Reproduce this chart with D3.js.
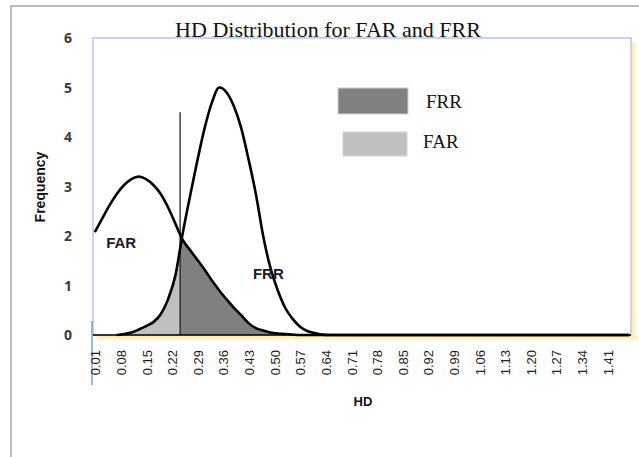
<!DOCTYPE html>
<html><head><meta charset="utf-8">
<script src="https://cdn.jsdelivr.net/npm/d3@7"></script>
<style>body{margin:0;background:#fff}svg{display:block}</style>
</head><body>
<svg id="c" width="639" height="457"></svg>
<script>
// HD sample points (every 0.02)
const hd = [0.01,0.03,0.05,0.07,0.09,0.11,0.13,0.15,0.17,0.19,0.21,0.23,0.25,0.27,0.29,0.31,0.33,0.35,0.37,0.39,0.41,0.43,0.45,0.47,0.49,0.51,0.53,0.55,0.57,0.59,0.61,0.63,0.65,0.70,1.47];
const farValues = [2.08,2.35,2.62,2.85,3.03,3.15,3.20,3.15,3.03,2.85,2.58,2.25,1.92,1.72,1.52,1.32,1.10,0.90,0.72,0.55,0.40,0.24,0.14,0.09,0.05,0.03,0.02,0.01,0,0,0,0,0,0,0];
const frrValues = [0,0,0,0,0.02,0.05,0.11,0.18,0.26,0.42,0.72,1.20,2.05,2.80,3.52,4.18,4.70,5.00,4.90,4.62,4.18,3.55,2.85,2.00,1.35,0.90,0.55,0.33,0.17,0.08,0.04,0.01,0,0,0];
const xTickLabels = ["0.01","0.08","0.15","0.22","0.29","0.36","0.43","0.50","0.57","0.64","0.71","0.78","0.85","0.92","0.99","1.06","1.13","1.20","1.27","1.34","1.41"];
const yTicks = [0,1,2,3,4,5,6];
const threshold = 0.243;
const thresholdHeight = 4.5;
const curveLabels = [{name:"FAR", hd:0.041, v:1.75},{name:"FRR", hd:0.442, v:1.13}];
const legendItems = [{name:"FRR", color:"#808080"},{name:"FAR", color:"#c0c0c0"}];

const svg = d3.select("#c");
const L = 93, R = 631, T = 38, B = 335;
const x = d3.scaleLinear().domain([0.005, 1.475]).range([L, R]);
const y = d3.scaleLinear().domain([0, 6]).range([B, T]);

// outer frame
svg.append("rect").attr("x",11).attr("y",6).attr("width",700).attr("height",500)
  .attr("fill","none").attr("stroke","#a6a6a6").attr("stroke-width",1.5);

// shadow (yellowish)
const defs = svg.append("defs");
const gR = defs.append("linearGradient").attr("id","shR");
gR.append("stop").attr("offset","0").attr("stop-color","#ffe9a8");
gR.append("stop").attr("offset","1").attr("stop-color","#ffffff");
const gB = defs.append("linearGradient").attr("id","shB").attr("x1",0).attr("y1",0).attr("x2",0).attr("y2",1);
gB.append("stop").attr("offset","0").attr("stop-color","#ffe9a8");
gB.append("stop").attr("offset","1").attr("stop-color","#ffffff");
svg.append("rect").attr("x",R+1).attr("y",T+4).attr("width",6).attr("height",B-T).attr("fill","url(#shR)");
svg.append("rect").attr("x",L+4).attr("y",B+1).attr("width",R-L+3).attr("height",6).attr("fill","url(#shB)");

// plot area border
svg.append("rect").attr("x",L).attr("y",T).attr("width",R-L).attr("height",B-T)
  .attr("fill","#fff").attr("stroke","#b4c7e7").attr("stroke-width",1.5);

const data = hd.map((h,i)=>({h, far:farValues[i], frr:frrValues[i]}));
const curve = d3.curveMonotoneX;

defs.append("clipPath").attr("id","cl").append("rect")
  .attr("x",L).attr("y",T).attr("width",x(threshold)-L).attr("height",B-T);
defs.append("clipPath").attr("id","cr").append("rect")
  .attr("x",x(threshold)).attr("y",T).attr("width",R-x(threshold)).attr("height",B-T);

svg.append("path").datum(data).attr("clip-path","url(#cl)")
  .attr("fill","#c0c0c0")
  .attr("d", d3.area().x(d=>x(d.h)).y0(B).y1(d=>y(d.frr)).curve(curve));
svg.append("path").datum(data).attr("clip-path","url(#cr)")
  .attr("fill","#808080")
  .attr("d", d3.area().x(d=>x(d.h)).y0(B).y1(d=>y(d.far)).curve(curve));

// threshold line
svg.append("line").attr("x1",x(threshold)).attr("x2",x(threshold))
  .attr("y1",y(thresholdHeight)).attr("y2",B)
  .attr("stroke","#222").attr("stroke-width",1.3);

// curves
const frrData = data.filter(d=>d.h>=0.07);
svg.append("path").datum(data).attr("fill","none").attr("stroke","#000").attr("stroke-width",2.6)
  .attr("d", d3.line().x(d=>x(d.h)).y(d=>y(d.far)).curve(curve));
svg.append("path").datum(frrData).attr("fill","none").attr("stroke","#000").attr("stroke-width",2.6)
  .attr("d", d3.line().x(d=>x(d.h)).y(d=>y(d.frr)).curve(curve));

// x axis line
svg.append("line").attr("x1",L).attr("x2",R).attr("y1",B).attr("y2",B).attr("stroke","#000").attr("stroke-width",1.5);
// y axis blue line extension
svg.append("line").attr("x1",L-1).attr("x2",L-1).attr("y1",321).attr("y2",385).attr("stroke","#6f8fc4").attr("stroke-width",1.3);

// y tick labels
svg.append("g").selectAll("text").data(yTicks).join("text")
  .attr("x",68).attr("y",d=>y(d)).attr("dy","0.36em").attr("text-anchor","middle")
  .attr("font-family","'Open Sans', 'DejaVu Sans', sans-serif").attr("font-weight","bold")
  .attr("font-size",14).attr("fill","#3a3a3a").text(d=>d);

// x tick labels (rotated)
svg.append("g").selectAll("text").data(xTickLabels).join("text")
  .attr("transform",d=>`translate(${x(+d)+5.5},350) rotate(-90)`)
  .attr("text-anchor","end")
  .attr("font-family","'Liberation Sans', Arial, sans-serif")
  .attr("font-size",13).attr("fill","#222").text(d=>d);

// axis titles
svg.append("text").attr("x",363).attr("y",406).attr("text-anchor","middle")
  .attr("font-family","'Liberation Sans', Arial, sans-serif").attr("font-weight","bold")
  .attr("font-size",13).attr("fill","#111").text("HD");
svg.append("text").attr("transform","translate(45,187) rotate(-90)").attr("text-anchor","middle")
  .attr("font-family","'Liberation Sans', Arial, sans-serif").attr("font-weight","bold")
  .attr("font-size",14).attr("fill","#111").text("Frequency");

// title
svg.append("text").attr("x",328).attr("y",37).attr("text-anchor","middle")
  .attr("font-family","'Liberation Serif', 'Times New Roman', serif")
  .attr("font-size",22).attr("fill","#111").text("HD Distribution for FAR and FRR");

// curve labels
svg.append("g").selectAll("text").data(curveLabels).join("text")
  .attr("x",d=>x(d.hd)).attr("y",d=>y(d.v))
  .attr("font-family","'Liberation Sans', Arial, sans-serif").attr("font-weight","bold")
  .attr("font-size",15).attr("fill","#1a1a2a").text(d=>d.name);

// legend
const lg = svg.append("g");
lg.selectAll("rect").data(legendItems).join("rect")
  .attr("x",(d,i)=>i===0?338:343).attr("y",(d,i)=>i===0?88:132)
  .attr("width",(d,i)=>i===0?70:64).attr("height",(d,i)=>i===0?26:24)
  .attr("fill",d=>d.color).attr("stroke","#d0d0d0").attr("stroke-width",1);
lg.selectAll("text").data(legendItems).join("text")
  .attr("x",(d,i)=>i===0?426:423).attr("y",(d,i)=>i===0?108:148)
  .attr("font-family","'Liberation Serif', 'Times New Roman', serif")
  .attr("font-size",19).attr("fill","#111").text(d=>d.name);
</script>
</body></html>
